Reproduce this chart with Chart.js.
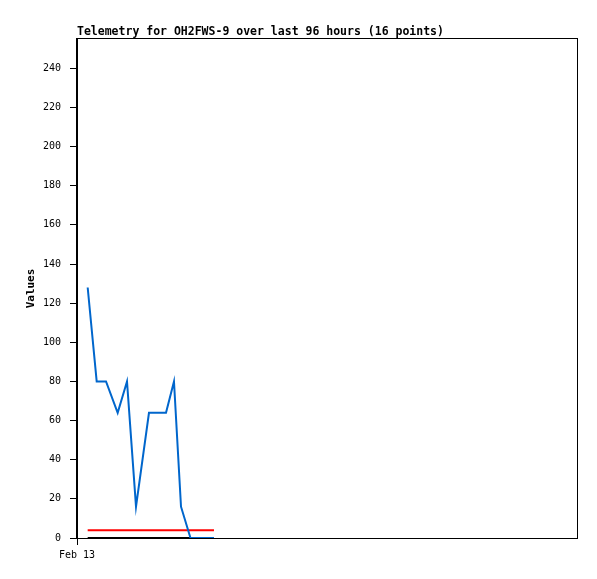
<!DOCTYPE html>
<html>
<head>
<meta charset="utf-8">
<script src="https://cdn.jsdelivr.net/npm/chart.js@4/dist/chart.umd.min.js"></script>
<style>
  body { margin: 0; background: #fff; }
</style>
</head>
<body>
<canvas id="telemetry" width="597" height="579"></canvas>
<script>
// hours since start of Feb 13
var hours = [2.05, 3.78, 5.57, 7.81, 9.6, 11.33, 13.82, 17.09, 18.62, 19.97, 21.79, 22.66, 23.62, 24.58, 25.34, 26.3];
var values = [128, 80, 80, 64, 80, 16, 64, 64, 80, 16, 0, 0, 0, 0, 0, 0];
var redLevel = 4;
var blackLevel = 0;
var yTicks = [0, 20, 40, 60, 80, 100, 120, 140, 160, 180, 200, 220, 240];
var xTickLabel = 'Feb 13';

var valuePoints = hours.map(function (h, i) { return { x: h, y: values[i] }; });
var first = hours[0], last = hours[hours.length - 1];

var frame = {
    id: 'frame',
    afterDraw: function (chart) {
        var a = chart.chartArea, c = chart.ctx;
        c.save();
        c.strokeStyle = '#000';
        c.lineWidth = 1;
        c.strokeRect(a.left - 0.5, a.top - 0.5, a.right - a.left + 1, a.bottom - a.top + 1);
        c.restore();
    }
};

var ctx = document.getElementById('telemetry').getContext('2d');
var chart = new Chart(ctx, {
    type: 'line',
    data: {
        datasets: [{
            label: 'value',
            data: valuePoints,
            borderColor: '#0066cc',
            borderWidth: 2,
            pointRadius: 0,
            tension: 0
        }, {
            label: 'red',
            data: [{ x: first, y: redLevel }, { x: last, y: redLevel }],
            borderColor: '#ff0000',
            borderWidth: 2,
            pointRadius: 0
        }, {
            label: 'black',
            data: [{ x: first, y: blackLevel }, { x: last, y: blackLevel }],
            borderColor: '#000000',
            borderWidth: 2,
            pointRadius: 0
        }]
    },
    options: {
        responsive: false,
        animation: false,
        layout: { padding: { left: 0, right: 20, top: 0, bottom: 0 } },
        plugins: {
            legend: { display: false },
            tooltip: { enabled: false },
            title: {
                display: true,
                text: 'Telemetry for OH2FWS-9 over last 96 hours (16 points)',
                align: 'start',
                fullSize: false,
                color: '#000',
                font: { family: 'DejaVu Sans Mono', size: 11.5, weight: 'bold', lineHeight: 1 },
                padding: { top: 26, bottom: 1.5 }
            }
        },
        scales: {
            x: {
                type: 'linear',
                min: 0,
                max: 96,
                afterBuildTicks: function (scale) { scale.ticks = [{ value: 0 }]; },
                afterFit: function (scale) { scale.height = 41; },
                grid: { display: true, drawOnChartArea: false, drawTicks: true, tickLength: 7, color: '#000' },
                border: { display: true, color: '#000' },
                ticks: {
                    color: '#000',
                    padding: 4.5,
                    maxRotation: 0,
                    font: { family: 'DejaVu Sans Mono', size: 10 },
                    callback: function () { return xTickLabel; }
                }
            },
            y: {
                min: 0,
                max: 255,
                afterBuildTicks: function (scale) {
                    scale.ticks = yTicks.map(function (v) { return { value: v }; });
                },
                afterFit: function (scale) { scale.width = 77; },
                grid: { display: true, drawOnChartArea: false, drawTicks: true, tickLength: 7, color: '#000' },
                border: { display: true, color: '#000' },
                ticks: {
                    color: '#000',
                    padding: 9,
                    font: { family: 'DejaVu Sans Mono', size: 10 }
                },
                title: {
                    display: true,
                    text: 'Values',
                    color: '#000',
                    font: { family: 'DejaVu Sans Mono', size: 11, weight: 'bold' },
                    padding: { top: 25, bottom: 0 }
                }
            }
        }
    },
    plugins: [frame]
});
</script>
</body>
</html>
